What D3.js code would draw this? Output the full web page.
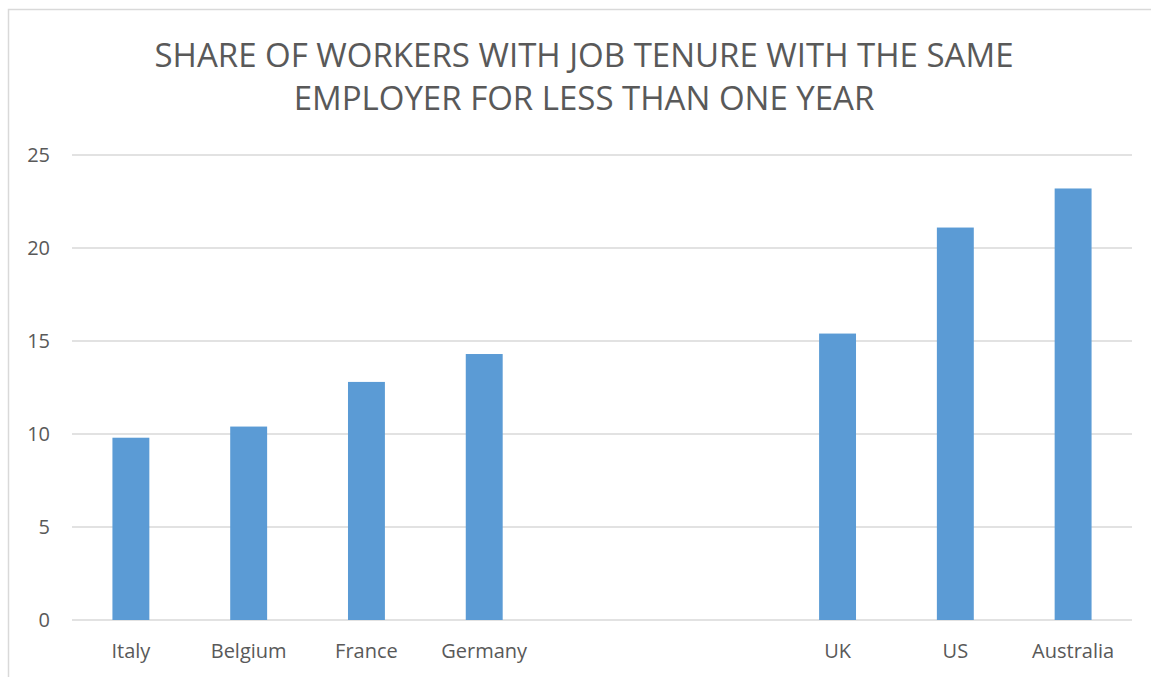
<!DOCTYPE html>
<html>
<head>
<meta charset="utf-8">
<script src="https://cdn.jsdelivr.net/npm/d3@7"></script>
<style>
  body { margin: 0; background: #fff; }
  text { font-family: "Open Sans", sans-serif; fill: #595959; }
</style>
</head>
<body>
<div id="chart"></div>
<script>
// slots 5 and 6 are blank categories in the source chart
const categories = ['Italy', 'Belgium', 'France', 'Germany', ' ', '  ', 'UK', 'US', 'Australia'];
const values = [9.8, 10.4, 12.8, 14.3, null, null, 15.4, 21.1, 23.2];
const yTicks = [0, 5, 10, 15, 20, 25];
const titleLines = ['SHARE OF WORKERS WITH JOB TENURE WITH THE SAME', 'EMPLOYER FOR LESS THAN ONE YEAR'];

const width = 1151, height = 677;
const margin = { top: 155, right: 19, bottom: 57, left: 72 };

const svg = d3.select('#chart').append('svg')
  .attr('width', width)
  .attr('height', height);

// chart area border (right and bottom fall outside the crop)
svg.append('rect')
  .attr('x', 8.5).attr('y', 9.5)
  .attr('width', width + 10).attr('height', height + 10)
  .attr('fill', 'none')
  .attr('stroke', '#d9d9d9')
  .attr('stroke-width', 1.5);

const x = d3.scaleBand()
  .domain(categories)
  .range([margin.left, width - margin.right])
  .paddingInner(0)
  .paddingOuter(0);

const y = d3.scaleLinear()
  .domain([0, 25])
  .range([height - margin.bottom, margin.top]);

svg.append('g')
  .selectAll('text')
  .data(titleLines)
  .join('text')
  .attr('x', 584)
  .attr('y', (d, i) => 67 + i * 43)
  .attr('text-anchor', 'middle')
  .attr('font-size', 33)
  .text(d => d);

svg.append('g')
  .selectAll('line')
  .data(yTicks)
  .join('line')
  .attr('x1', margin.left)
  .attr('x2', width - margin.right)
  .attr('y1', d => y(d))
  .attr('y2', d => y(d))
  .attr('stroke', '#d9d9d9')
  .attr('stroke-width', 1.5);

svg.append('g')
  .selectAll('text')
  .data(yTicks)
  .join('text')
  .attr('x', 50)
  .attr('y', d => y(d))
  .attr('dy', '0.36em')
  .attr('text-anchor', 'end')
  .attr('font-size', 20)
  .text(d => d);

const barW = x.bandwidth() / 3.19;

svg.append('g')
  .selectAll('rect')
  .data(categories.map((c, i) => ({ c, v: values[i] })).filter(d => d.v != null))
  .join('rect')
  .attr('x', d => x(d.c) + x.bandwidth() / 2 - barW / 2)
  .attr('y', d => y(d.v))
  .attr('width', barW)
  .attr('height', d => y(0) - y(d.v))
  .attr('fill', '#5b9bd5');

svg.append('g')
  .selectAll('text')
  .data(categories)
  .join('text')
  .attr('x', d => x(d) + x.bandwidth() / 2)
  .attr('y', 658)
  .attr('text-anchor', 'middle')
  .attr('font-size', 20)
  .text(d => d.trim());
</script>
</body>
</html>
